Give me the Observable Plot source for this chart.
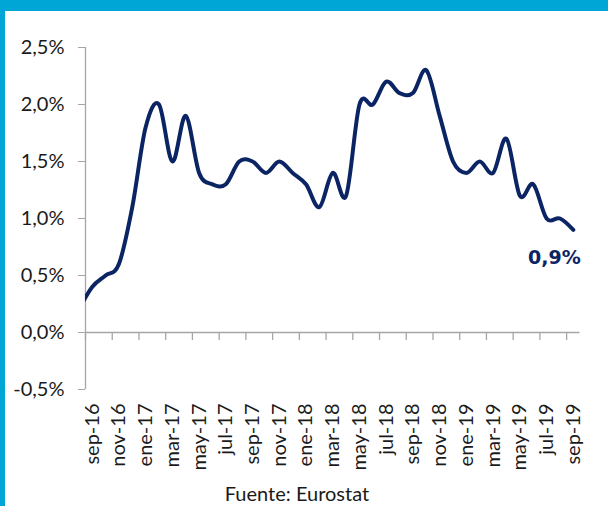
<!DOCTYPE html>
<html>
<head>
<meta charset="utf-8">
<script src="https://cdn.jsdelivr.net/npm/d3@7"></script>
<script src="https://cdn.jsdelivr.net/npm/@observablehq/plot@0.6"></script>
<style>
  html, body { margin: 0; padding: 0; background: #fff; }
  #wrap { position: relative; width: 608px; height: 506px; overflow: hidden; background: #fff; }
  #chart { position: absolute; left: 0; top: 0; }
  #topbar { position: absolute; left: 0; top: 0; width: 608px; height: 11px; background: #00a7d6; }
  #leftbar { position: absolute; left: 0; top: 0; width: 5px; height: 506px; background: #00a7d6; }
  #caption { position: absolute; left: 0; width: 594px; top: 483px; text-align: center;
             font-family: Lato, sans-serif; font-size: 20px; line-height: 20px; color: #1a1a1a; }
</style>
</head>
<body>
<div id="wrap">
  <div id="chart"></div>
  <div id="topbar"></div>
  <div id="leftbar"></div>
  <div id="caption">Fuente: Eurostat</div>
</div>
<script>
// Months: index -1 = ago-16 (clipped at the left edge), 0 = sep-16 ... 36 = sep-19
const monthIndex = d3.range(-1, 37);
const inflation = [
  0.2,                                   // ago-16
  0.4, 0.5, 0.6, 1.1,                    // sep-16 .. dic-16
  1.8, 2.0, 1.5, 1.9, 1.4, 1.3, 1.3, 1.5, 1.5, 1.4, 1.5, 1.4, // 2017
  1.3, 1.1, 1.4, 1.2, 2.0, 2.0, 2.2, 2.1, 2.1, 2.3, 1.9, 1.5, // 2018
  1.4, 1.5, 1.4, 1.7, 1.2, 1.3, 1.0, 1.0, 0.9                 // 2019
];
const tickLabels = ["sep-16","nov-16","ene-17","mar-17","may-17","jul-17","sep-17","nov-17",
  "ene-18","mar-18","may-18","jul-18","sep-18","nov-18","ene-19","mar-19","may-19","jul-19","sep-19"];
const labelPositions = d3.range(0, 37, 2);
const tickBoundaries = d3.range(-0.5, 36, 2);
const yTicks = [-0.5, 0, 0.5, 1.0, 1.5, 2.0, 2.5];

const data = monthIndex.map((m, k) => ({m, v: inflation[k]}));
const last = data[data.length - 1];
const fmt = d => d.toFixed(1).replace(".", ",") + "%";

const navy = "#0b2463";
const grey = "#a6a6a6";

const chart = Plot.plot({
  width: 608,
  height: 475,
  marginLeft: 85,
  marginRight: 28.5,
  marginTop: 47,
  marginBottom: 86,
  style: { fontFamily: "Lato, sans-serif", fontSize: "20px", color: "#1a1a1a", background: "transparent" },
  x: { domain: [-0.5, 36.5] },
  y: { domain: [-0.5, 2.5] },
  marks: [
    Plot.axisY({ ticks: yTicks, tickFormat: fmt, tickSize: 7, tickPadding: 14, stroke: grey, fill: "#1a1a1a", label: null }),
    Plot.ruleX([-0.5], { y1: -0.5, y2: 2.5, stroke: grey, strokeWidth: 1.3 }),
    Plot.ruleY([0], { x1: -0.5, x2: 36.5, stroke: grey, strokeWidth: 1.3 }),
    Plot.ruleX(tickBoundaries, { y1: 0, y2: 0, insetBottom: -8, stroke: grey, strokeWidth: 1.3 }),
    Plot.axisX({ ticks: labelPositions, tickFormat: i => tickLabels[i / 2], tickRotate: -90, tickSize: 0, tickPadding: 14, fill: "#1a1a1a", label: null }),
    Plot.line(data, { x: "m", y: "v", stroke: navy, strokeWidth: 4, curve: "cardinal", clip: true }),
    Plot.text([last], { x: "m", y: "v", text: d => fmt(d.v), dx: -19, dy: 28, fill: navy,
      fontWeight: "bold", fontSize: 19, fontFamily: "DejaVu Sans, sans-serif" })
  ]
});
document.getElementById("chart").appendChild(chart);
</script>
</body>
</html>
